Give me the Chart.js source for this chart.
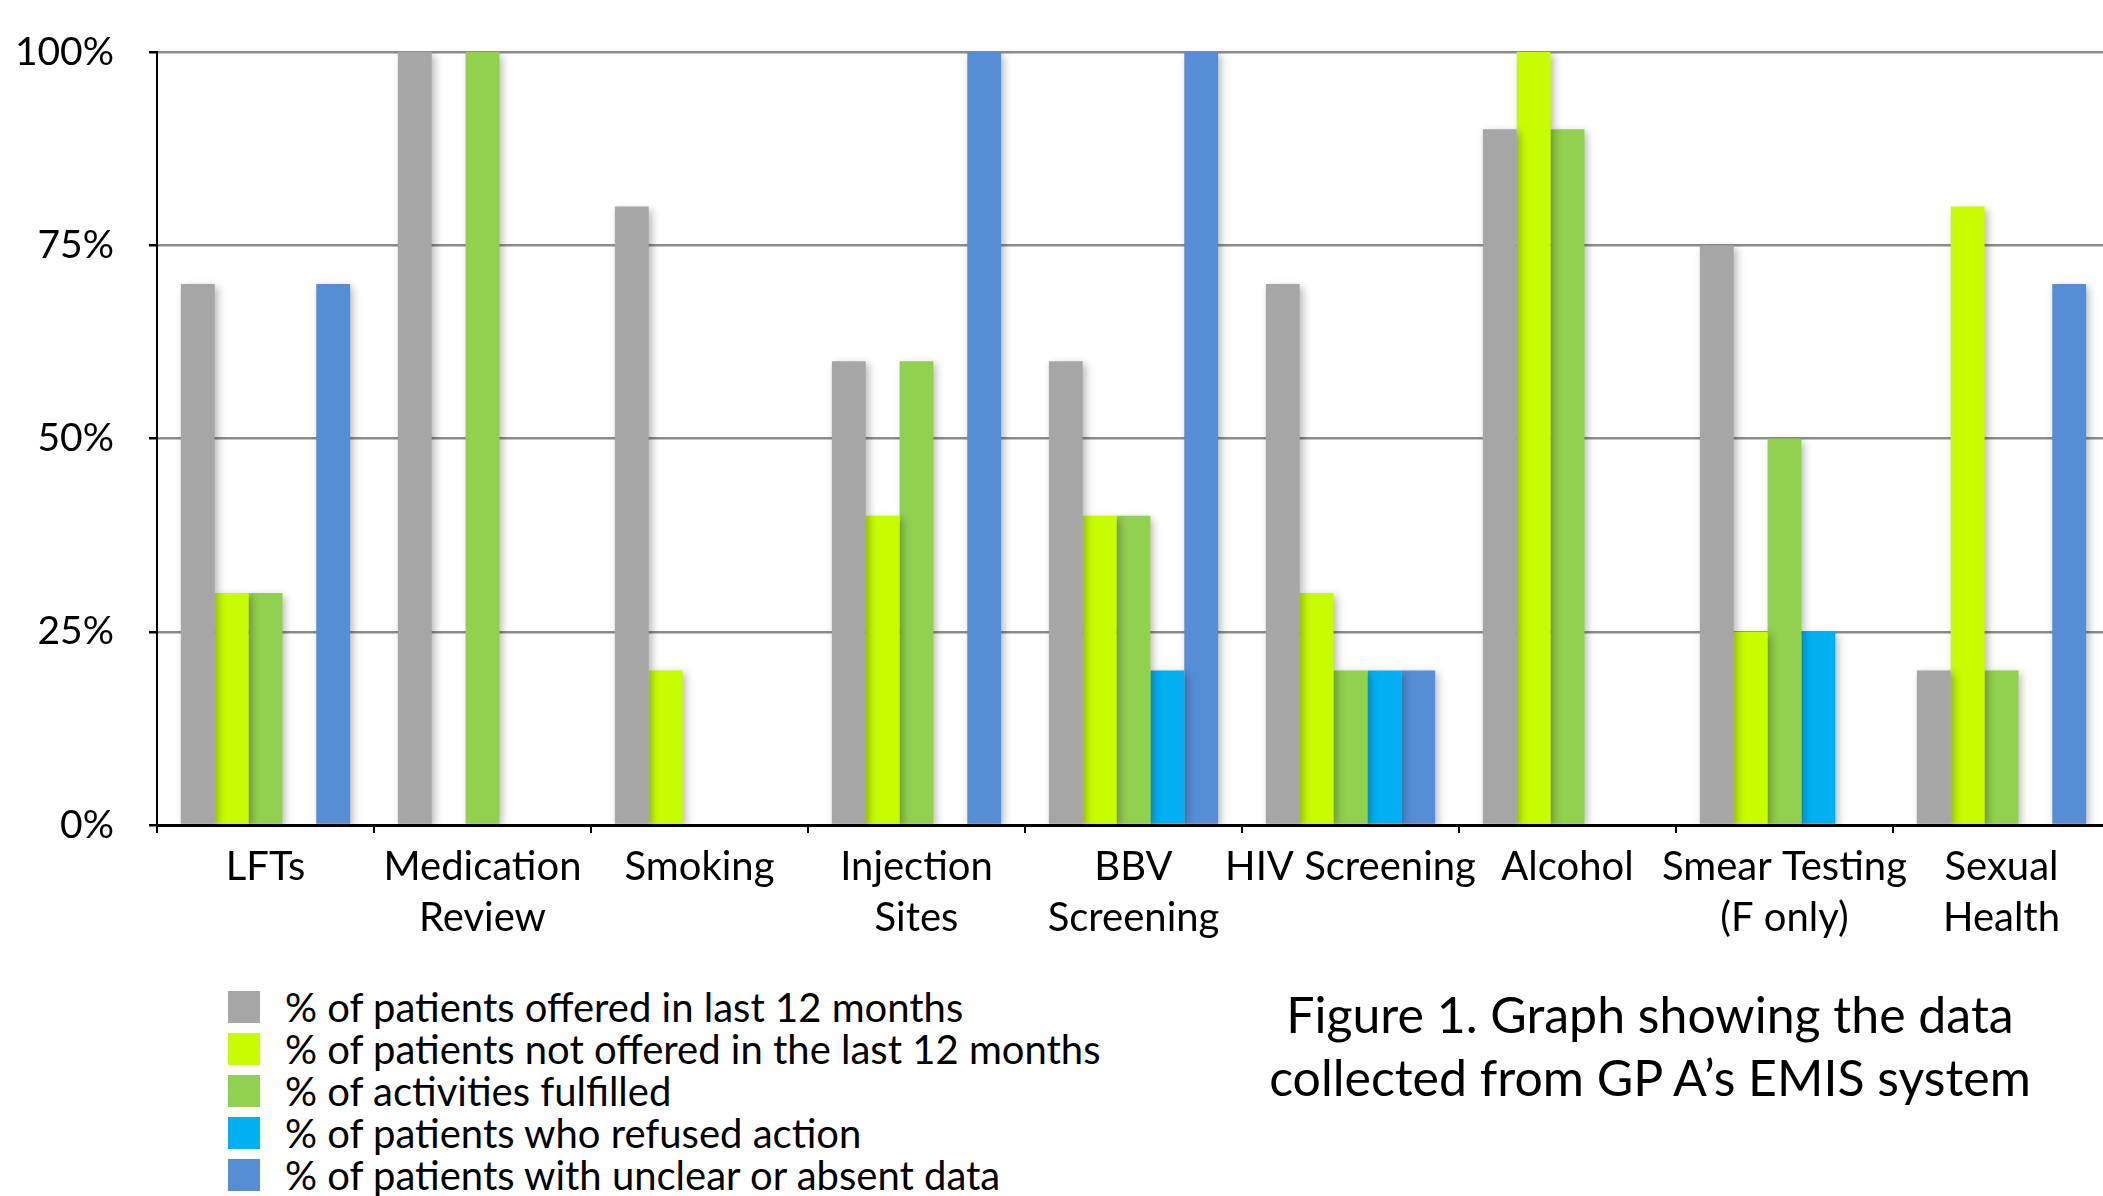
<!DOCTYPE html>
<html>
<head>
<meta charset="utf-8">
<script src="https://cdn.jsdelivr.net/npm/chart.js@4.4.1/dist/chart.umd.min.js"></script>
<style>
  html, body { margin: 0; padding: 0; background: #fff; overflow: hidden; width: 2103px; height: 1196px; }
  #wrap { position: absolute; left: 0; top: 0; width: 2110px; height: 960px; }
  #legend { position: absolute; left: 228px; top: 986px; font-family: Lato, sans-serif; font-size: 40px; color: #000; }
  .row { position: relative; height: 42px; line-height: 42px; white-space: nowrap; }
  .box { position: absolute; left: 0; top: 5px; width: 32px; height: 32px; }
  .lab { position: absolute; left: 57px; top: 0; }
  #caption { position: absolute; left: 1150px; width: 1000px; top: 983px; text-align: center; font-family: Lato, sans-serif; font-size: 50px; line-height: 63px; color: #000; white-space: nowrap; }
</style>
</head>
<body>
<div id="wrap"><canvas id="c" width="2110" height="960"></canvas></div>
<div id="legend"></div>
<div id="caption">Figure 1. Graph showing the data<br>collected from GP A’s EMIS system</div>
<script>
const categories = [['LFTs'], ['Medication', 'Review'], ['Smoking'], ['Injection', 'Sites'], ['BBV', 'Screening'], ['HIV Screening'], ['Alcohol'], ['Smear Testing', '(F only)'], ['Sexual', 'Health']];
const seriesNames = ['% of patients offered in last 12 months', '% of patients not offered in the last 12 months', '% of activities fulfilled', '% of patients who refused action', '% of patients with unclear or absent data'];
const offered     = [70, 100, 80, 60, 60, 70, 90, 75, 20];
const notOffered  = [30, 0, 20, 40, 40, 30, 100, 25, 80];
const fulfilled   = [30, 100, 0, 60, 40, 20, 90, 50, 20];
const refused     = [0, 0, 0, 0, 20, 20, 0, 25, 0];
const unclear     = [70, 0, 0, 100, 100, 20, 0, 0, 70];
const yTicks = [0, 25, 50, 75, 100];
const colors = ['#A6A6A6', '#C8FC00', '#92D050', '#00B0F0', '#558ED5'];

const seriesValues = [offered, notOffered, fulfilled, refused, unclear];

const shadowPlugin = {
  id: 'barShadow',
  beforeDatasetsDraw(chart) {
    const ctx = chart.ctx;
    ctx.save();
    ctx.shadowColor = 'rgba(0,0,0,0.28)';
    ctx.shadowBlur = 8;
    ctx.shadowOffsetX = 3;
    ctx.shadowOffsetY = 3;
  },
  afterDatasetsDraw(chart) {
    chart.ctx.restore();
  }
};

new Chart(document.getElementById('c'), {
  type: 'bar',
  data: {
    labels: categories,
    datasets: seriesValues.map((vals, i) => ({
      label: seriesNames[i],
      data: vals,
      backgroundColor: colors[i],
      borderWidth: 0,
      barPercentage: 1.0,
      categoryPercentage: 0.78
    }))
  },
  options: {
    responsive: false,
    animation: false,
    devicePixelRatio: 1,
    layout: { padding: { top: 52, left: 0, right: 0, bottom: 0 } },
    plugins: { legend: { display: false }, tooltip: { enabled: false } },
    scales: {
      x: {
        offset: true,
        grid: { display: true, drawOnChartArea: false, drawTicks: true, tickLength: 8, offset: true, color: '#000', lineWidth: 2 },
        border: { display: true, color: '#000', width: 3 },
        ticks: { color: '#000', font: { family: 'Lato', size: 40, lineHeight: 1.275 }, padding: 9, maxRotation: 0, autoSkip: false },
        afterFit(scale) { scale.height = 135; }
      },
      y: {
        min: 0, max: 100,
        afterBuildTicks(scale) { scale.ticks = yTicks.map(v => ({ value: v })); },
        grid: {
          color: (c) => c.tick && c.tick.value === 0 ? '#000' : '#8C8C8C',
          lineWidth: 2.5,
          tickColor: '#000',
          tickLength: 8,
          drawTicks: true
        },
        border: { display: true, color: '#000', width: 2 },
        ticks: { color: '#000', font: { family: 'Lato', size: 39, lineHeight: 0.5 }, padding: 35, callback: (v) => v + '%' },
        afterFit(scale) { scale.width = 157; }
      }
    }
  },
  plugins: [shadowPlugin]
});

const legend = document.getElementById('legend');
seriesNames.forEach((name, i) => {
  const row = document.createElement('div');
  row.className = 'row';
  row.innerHTML = '<span class="box" style="background:' + colors[i] + '"></span><span class="lab"></span>';
  row.querySelector('.lab').textContent = name;
  legend.appendChild(row);
});
</script>
</body>
</html>
